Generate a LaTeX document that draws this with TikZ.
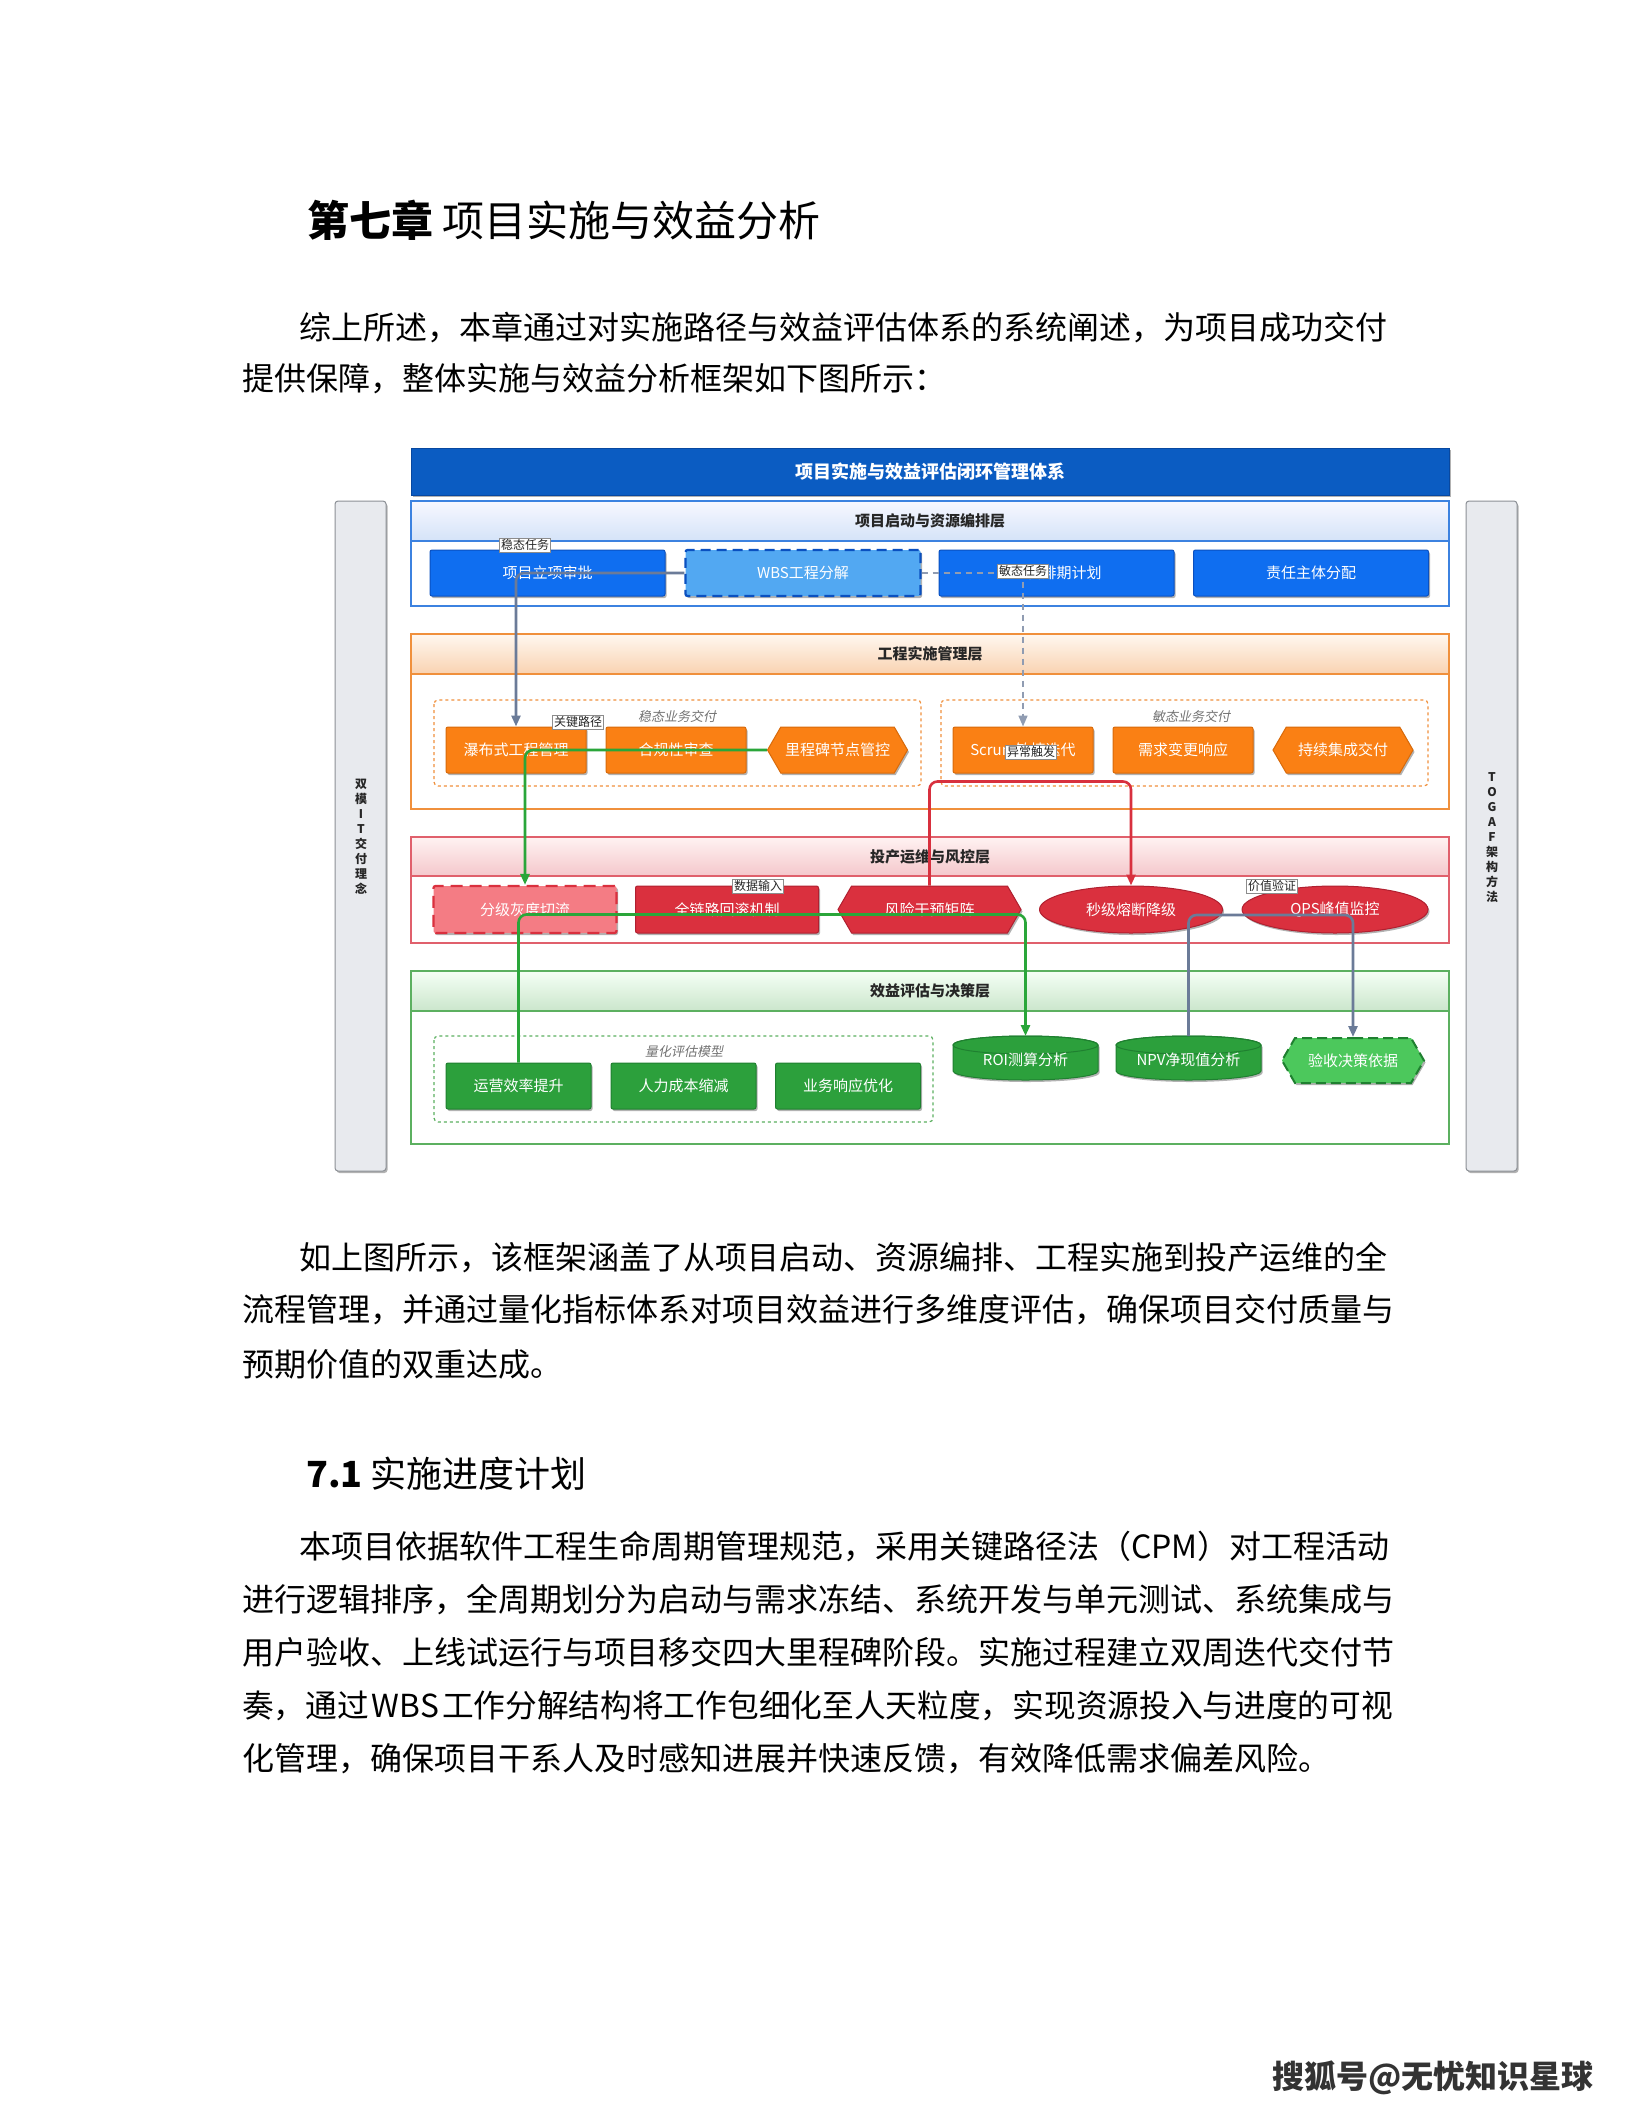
\documentclass[tikz,border=0pt]{standalone}
\usepackage{fontspec}
\setmainfont{Noto Sans CJK SC}[AutoFakeSlant=0.2]
\usetikzlibrary{shapes.geometric,shapes.symbols,shadows,arrows.meta,calc}
\newcommand\fs[1]{\fontsize{#1}{#1}\selectfont}
\definecolor{cTitle}{HTML}{0B5CC2}
\definecolor{cTitleD}{HTML}{0848A0}
\definecolor{cBlue}{HTML}{0F6EF0}
\definecolor{cBlueD}{HTML}{0A50C0}
\definecolor{cBlueL}{HTML}{52A8F2}
\definecolor{cL1}{HTML}{3C82E0}
\definecolor{cOrg}{HTML}{FA8014}
\definecolor{cOrgD}{HTML}{D86A0A}
\definecolor{cL2}{HTML}{F0903C}
\definecolor{cRed}{HTML}{DA303E}
\definecolor{cRedD}{HTML}{B02030}
\definecolor{cPink}{HTML}{F47C84}
\definecolor{cL3}{HTML}{E0606C}
\definecolor{cGrn}{HTML}{2CA03C}
\definecolor{cGrnD}{HTML}{1F8030}
\definecolor{cGrnL}{HTML}{4CC85C}
\definecolor{cL4}{HTML}{5CB060}
\definecolor{cSide}{HTML}{E8EAEE}
\definecolor{cSideD}{HTML}{8C9096}
\definecolor{cConn}{HTML}{6B7B98}
\definecolor{cGConn}{HTML}{2AA63A}
\definecolor{cRConn}{HTML}{D8303E}
\tikzset{
  sh/.style={drop shadow={shadow xshift=1.5pt,shadow yshift=-2pt,opacity=0.3,fill=black}},
  basebox/.style={rectangle, rounded corners=2pt, line width=1pt, text=white, font=\fs{15}, inner sep=0, sh},
  bluebox/.style={basebox, fill=cBlue, draw=cBlueD, minimum width=235, minimum height=46},
  bluedash/.style={bluebox, fill=cBlueL, draw=cBlueD, line width=2.2pt, dash pattern=on 10pt off 6pt},
  orgbox/.style={basebox, fill=cOrg, draw=cOrgD, minimum width=140, minimum height=46},
  orghex/.style={orgbox, shape=signal, signal to=east and west, signal pointer angle=120, rounded corners=0pt},
  redbox/.style={basebox, fill=cRed, draw=cRedD, minimum width=183, minimum height=47},
  reddash/.style={redbox, fill=cPink, draw=cRed, line width=2.2pt, dash pattern=on 12pt off 7pt},
  redhex/.style={redbox, shape=signal, signal to=east and west, signal pointer angle=120, rounded corners=0pt},
  redell/.style={redbox, shape=ellipse, rounded corners=0pt},
  grnbox/.style={basebox, fill=cGrn, draw=cGrnD, minimum width=145, minimum height=46},
  grnhex/.style={grnbox, fill=cGrnL, draw=cGrnD, line width=2pt, dash pattern=on 10pt off 5pt, shape=signal, signal to=east and west, signal pointer angle=120, rounded corners=0pt, minimum width=142, minimum height=45},
  cylslot/.style={rectangle, inner sep=0, outer sep=0, minimum width=145, minimum height=44},
  cyltext/.style={text=white, font=\fs{15}, inner sep=0},
  hdr/.style={font=\bfseries\fs{15}, text=black!85, inner sep=0},
  grplbl/.style={font=\itshape\fs{13}, text=black!55, inner sep=0},
  elbl/.style={fill=white, draw=black!45, line width=0.5pt, inner sep=1.5pt, font=\fs{12}, text=black!85},
  conn/.style={line width=2.6pt, rounded corners=8pt, -{Triangle[length=11pt,width=9pt]}},
  side/.style={rectangle, rounded corners=3pt, fill=cSide, draw=cSideD, line width=1pt, minimum width=51, minimum height=670, sh},
  sidetxt/.style={font=\bfseries\fontsize{12}{15}\selectfont, align=center, text=black!85, inner sep=0},
  para/.style={anchor=west, inner sep=0, font=\fs{32}, text=black}
}
\newcommand\cylshape[3]{%
  \path[fill=#2, draw=#3, line width=1pt, sh] ($(#1.north west)+(0,9)$) -- ($(#1.south west)+(0,-9)$)
    arc[start angle=180,end angle=0,x radius=72.5,y radius=9] -- ($(#1.north east)+(0,9)$)
    arc[start angle=0,end angle=-180,x radius=72.5,y radius=9] -- cycle;
  \draw[#3, line width=1pt] ($(#1.north)+(0,9)$) ellipse[x radius=72.5,y radius=9];
}
\begin{document}
\begin{tikzpicture}[x=1pt,y=-1pt]
\fill[white] (0,0) rectangle (1632,2112);
\useasboundingbox (0,0) rectangle (1632,2112);

% headings and text
\node[anchor=west, inner sep=0, font=\fs{42}] (chap) at (307,220) {{\bfseries 第七章} 项目实施与效益分析};
\node[para] (p1a) at (299,328) {综上所述，本章通过对实施路径与效益评估体系的系统阐述，为项目成功交付};
\node[para] (p1b) at (242,379) {提供保障，整体实施与效益分析框架如下图所示：};

% side bars
\node[side] (lbar) at (360.5,836) {};
\node[sidetxt] (ltxt) at (361,837) {双\\模\\I\\T\\交\\付\\理\\念};
\node[side] (rbar) at (1491.5,836) {};
\node[sidetxt] (rtxt) at (1492,838) {T\\O\\G\\A\\F\\架\\构\\方\\法};

% title bar
\node[rectangle, fill=cTitle, draw=cTitleD, line width=1pt, minimum width=1038, minimum height=47, text=white, font=\bfseries\fs{18}, sh] (title) at (930,471.5) {项目实施与效益评估闭环管理体系};

% layer 1
\draw[cL1, line width=1.2pt, fill=white] (411,501) rectangle (1449,606);
\shade[top color=blue!3, bottom color=cL1!22] (411,501) rectangle (1449,541);
\draw[cL1, line width=1.2pt] (411,501) rectangle (1449,541);
\node[hdr] (h1) at (930,521) {项目启动与资源编排层};
\node[bluebox] (b1) at (547.5,573) {项目立项审批};
\node[bluedash] (b2) at (803,573) {WBS工程分解};
\node[bluebox] (b3) at (1056.5,573) {迭代排期计划};
\node[bluebox] (b4) at (1311,573) {责任主体分配};

% layer 2
\draw[cL2, line width=1.2pt, fill=white] (411,634) rectangle (1449,809);
\shade[top color=orange!6, bottom color=cL2!40] (411,634) rectangle (1449,674);
\draw[cL2, line width=1.2pt] (411,634) rectangle (1449,674);
\node[hdr] (h2) at (930,654) {工程实施管理层};
\draw[cL2, line width=1.2pt, dashed, rounded corners=4pt] (434,700) rectangle (921,786);
\draw[cL2, line width=1.2pt, dashed, rounded corners=4pt] (941,700) rectangle (1428,786);
\node[grplbl] (gl1) at (677,717) {稳态业务交付};
\node[grplbl] (gl2) at (1191,717) {敏态业务交付};
\node[orgbox] (o1) at (516,750) {瀑布式工程管理};
\node[orgbox] (o2) at (676,750) {合规性审查};
\node[orghex] (o3) at (837.5,750) {里程碑节点管控};
\node[orgbox] (o4) at (1023,750) {Scrum敏捷迭代};
\node[orgbox] (o5) at (1183,750) {需求变更响应};
\node[orghex] (o6) at (1343,750) {持续集成交付};

% layer 3
\draw[cL3, line width=1.2pt, fill=white] (411,837) rectangle (1449,943);
\shade[top color=red!5, bottom color=cL3!35] (411,837) rectangle (1449,876);
\draw[cL3, line width=1.2pt] (411,837) rectangle (1449,876);
\node[hdr] (h3) at (930,856.5) {投产运维与风控层};
\node[reddash] (r1) at (525,909.5) {分级灰度切流};
\node[redbox] (r2) at (727,909.5) {全链路回滚机制};
\node[redhex] (r3) at (929.5,909.5) {风险干预矩阵};
\node[redell] (r4) at (1131,909.5) {秒级熔断降级};
\node[redell, minimum width=186] (r5) at (1335,909.5) {QPS峰值监控};

% layer 4
\draw[cL4, line width=1.2pt, fill=white] (411,971) rectangle (1449,1144);
\shade[top color=green!4, bottom color=cL4!32] (411,971) rectangle (1449,1011);
\draw[cL4, line width=1.2pt] (411,971) rectangle (1449,1011);
\node[hdr] (h4) at (930,991) {效益评估与决策层};
\draw[cL4, line width=1.2pt, dashed, rounded corners=4pt] (434,1036) rectangle (933,1122);
\node[grplbl] (gl3) at (684,1052) {量化评估模型};
\node[grnbox] (g1) at (518.5,1086) {运营效率提升};
\node[grnbox] (g2) at (683.5,1086) {人力成本缩减};
\node[grnbox] (g3) at (848,1086) {业务响应优化};
\node[cylslot] (c1) at (1025.5,1058) {};
\cylshape{c1}{cGrn}{cGrnD}
\node[cyltext] (c1t) at (1025.5,1060) {ROI测算分析};
\node[cylslot] (c2) at (1188.5,1058) {};
\cylshape{c2}{cGrn}{cGrnD}
\node[cyltext] (c2t) at (1188.5,1060) {NPV净现值分析};
\node[grnhex] (g6) at (1353,1060.5) {验收决策依据};

% connectors
\draw[conn, cConn] (b2.west) -| (o1.north);
\draw[conn, cConn!75, line width=1.6pt, dash pattern=on 6pt off 5pt, rounded corners=0pt] (b2.east) -| (o4.north);
\draw[conn, cGConn] (o3.west) -| (r1.north);
\draw[conn, cRConn] (r3.north) -- ++(0,-104) -| (r4.north);
\draw[conn, cGConn] (g1.north) -- ++(0,-148) -| (c1.north);
\draw[conn, cConn] (c2.north) -- ++(0,-121) -| (g6.north);
\node[elbl] (l1) at (525,545) {稳态任务};
\node[elbl] (l2) at (1023,571) {敏态任务};
\node[elbl] (l3) at (578,722) {关键路径};
\node[elbl] (l4) at (1031,752) {异常触发};
\node[elbl] (l5) at (758,886) {数据输入};
\node[elbl] (l6) at (1272,886) {价值验证};

% text below
\node[para] (p2a) at (299,1258) {如上图所示，该框架涵盖了从项目启动、资源编排、工程实施到投产运维的全};
\node[para] (p2b) at (242,1310) {流程管理，并通过量化指标体系对项目效益进行多维度评估，确保项目交付质量与};
\node[para] (p2c) at (242,1364) {预期价值的双重达成。};
\node[anchor=west, inner sep=0, font=\fs{36}] (sec) at (306,1474) {{\bfseries 7.1} 实施进度计划};
\node[para] (p3a) at (299,1546) {本项目依据软件工程生命周期管理规范，采用关键路径法（CPM）对工程活动};
\node[para] (p3b) at (242,1600) {进行逻辑排序，全周期划分为启动与需求冻结、系统开发与单元测试、系统集成与};
\node[para] (p3c) at (242,1652) {用户验收、上线试运行与项目移交四大里程碑阶段。实施过程建立双周迭代交付节};
\node[para, font=\fs{31.7}] (p3d) at (242,1706) {奏，通过\hspace{3pt}WBS\hspace{3pt}工作分解结构将工作包细化至人天粒度，实现资源投入与进度的可视};
\node[para] (p3e) at (242,1759) {化管理，确保项目干系人及时感知进展并快速反馈，有效降低需求偏差风险。};
\node[anchor=west, inner sep=0, font=\bfseries\fs{32}, text=black!80] (foot) at (1272,2078) {搜狐号@无忧知识星球};
\end{tikzpicture}
\end{document}
